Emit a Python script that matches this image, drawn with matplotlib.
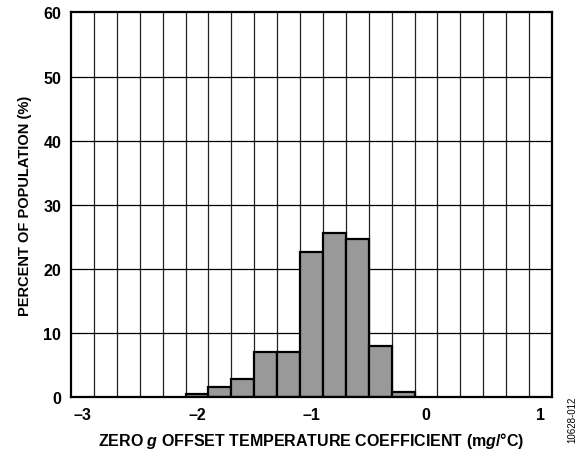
import matplotlib
matplotlib.use("Agg")
import matplotlib.pyplot as plt
import numpy as np

# histogram bins (left edges, mg/°C) and share of population (%)
bin_left = [-2.1, -1.9, -1.7, -1.5, -1.3, -1.1, -0.9, -0.7, -0.5, -0.3]
percent = [0.4, 1.5, 2.8, 7.0, 7.0, 22.6, 25.6, 24.7, 8.0, 0.7]
bin_width = 0.2

x_ticks = [-3, -2, -1, 0, 1]
x_tick_labels = ["\u20133", "\u20132", "\u20131", "0", "1"]
y_ticks = [0, 10, 20, 30, 40, 50, 60]

plt.rcParams['font.family'] = ['Liberation Sans', 'DejaVu Sans']
plt.rcParams['font.weight'] = 'bold'
plt.rcParams['mathtext.fontset'] = 'custom'
plt.rcParams['mathtext.bf'] = 'Liberation Sans:bold'
plt.rcParams['mathtext.bfit'] = 'Liberation Sans:bold:italic'
plt.rcParams['mathtext.rm'] = 'Liberation Sans:bold'

fig = plt.figure(figsize=(5.79, 4.52), dpi=100)
ax = fig.add_axes([0.1226, 0.1195, 0.8307, 0.8507])

# grid : verticals every 0.2, horizontals every 10
for gx in np.arange(-2.9, 1.0, 0.2):
    ax.axvline(gx, color='#222222', lw=0.9, zorder=1)
for gy in y_ticks[1:-1]:
    ax.axhline(gy, color='black', lw=0.9, zorder=1)

ax.bar(bin_left, percent, width=bin_width, align='edge',
       color='#999999', edgecolor='black', linewidth=1.6, zorder=3)

ax.set_xlim(-3.1, 1.1)
ax.set_ylim(0, 60)
ax.set_xticks(x_ticks)
ax.set_xticklabels(x_tick_labels)
ax.set_yticks(y_ticks)
ax.tick_params(length=0, labelsize=11.5, pad=7)
for lab in ax.get_xticklabels() + ax.get_yticklabels():
    lab.set_fontweight('bold')

for s in ax.spines.values():
    s.set_linewidth(1.6)
    s.set_zorder(4)

ax.set_xlabel(r'ZERO $\mathbfit{g}$ OFFSET TEMPERATURE COEFFICIENT (m$\mathbfit{g}$/°C)',
              fontsize=11.5, fontweight='bold', labelpad=6)
ax.set_ylabel('PERCENT OF POPULATION (%)', fontsize=10.5, fontweight='bold', labelpad=8)

fig.text(0.988, 0.02, '10628-012', rotation=90, fontsize=7, fontweight='normal',
         ha='center', va='bottom')

fig.savefig('out.png', dpi=100)
